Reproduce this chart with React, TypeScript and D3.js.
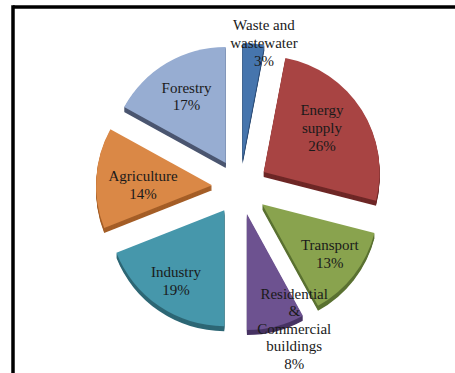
import React from "react";
import * as d3 from "d3";

const categories = [
  "Waste and wastewater",
  "Energy supply",
  "Transport",
  "Residential & Commercial buildings",
  "Industry",
  "Agriculture",
  "Forestry",
];
const values = [3, 26, 13, 8, 19, 14, 17];
const labelLines = [
  ["Waste and", "wastewater"],
  ["Energy", "supply"],
  ["Transport"],
  ["Residential", "&", "Commercial", "buildings"],
  ["Industry"],
  ["Agriculture"],
  ["Forestry"],
];

const topColors = ["#4675AD", "#A84443", "#89A34E", "#6D5290", "#4697AB", "#DA8846", "#97ADD2"];
const sideColors = ["#2D4D76", "#6E2726", "#5A7131", "#473363", "#2D6775", "#A45E27", "#4B5670"];

// layout (label placement from slice apex)
const labelR = [118, 73, 84, 124, 86, 69, 77];
const labelShift = [5, -4.6, -1.5, -8, 0, -3.6, 0];

export default function App() {
  const W = 455, H = 373;
  const cx = 240, cy = 187, R = 116, explode = 28, depth = 5;
  const pie = d3.pie<number>().sort(null).startAngle(0).endAngle(2 * Math.PI);
  const arcs = pie(values);
  const arcGen = d3.arc<d3.PieArcDatum<number>>().innerRadius(0).outerRadius(R);
  const lh = 17.6;

  const slices = arcs.map((a, i) => {
    const mid = (a.startAngle + a.endAngle) / 2;
    const ox = Math.sin(mid) * explode;
    const oy = -Math.cos(mid) * explode;
    const la = mid + (labelShift[i] * Math.PI) / 180;
    const lx = cx + ox + Math.sin(la) * labelR[i];
    const ly = cy + oy - Math.cos(la) * labelR[i];
    return { a, i, ox, oy, lx, ly, d: arcGen(a) as string };
  });

  return (
    <svg width={W} height={H} style={{ position: "absolute", left: 0, top: 0, background: "#fff" }}>
      <line x1={13} y1={7} x2={W} y2={7} stroke="#000" strokeWidth={3.5} />
      <line x1={13} y1={5.3} x2={13} y2={H} stroke="#000" strokeWidth={3.5} />
      {slices.map((s) => (
        <g key={"side" + s.i} transform={`translate(${cx + s.ox},${cy + s.oy})`}>
          {d3.range(depth, 0, -1).map((k) => (
            <path key={k} d={s.d} transform={`translate(0,${k})`} fill={sideColors[s.i]} />
          ))}
        </g>
      ))}
      {slices.map((s) => (
        <path
          key={"top" + s.i}
          d={s.d}
          transform={`translate(${cx + s.ox},${cy + s.oy})`}
          fill={topColors[s.i]}
        />
      ))}
      {slices.map((s) => {
        const lines = [...labelLines[s.i], values[s.i] + "%"];
        const n = lines.length;
        const y0 = s.ly - ((n - 1) * lh) / 2 + 5;
        return (
          <text
            key={"lab" + s.i}
            textAnchor="middle"
            fontFamily="'Liberation Serif', 'Times New Roman', serif"
            fontSize={15}
            fill="#1a1a1a"
          >
            {lines.map((t, j) => (
              <tspan key={j} x={s.lx} y={y0 + j * lh}>
                {t}
              </tspan>
            ))}
          </text>
        );
      })}
    </svg>
  );
}
